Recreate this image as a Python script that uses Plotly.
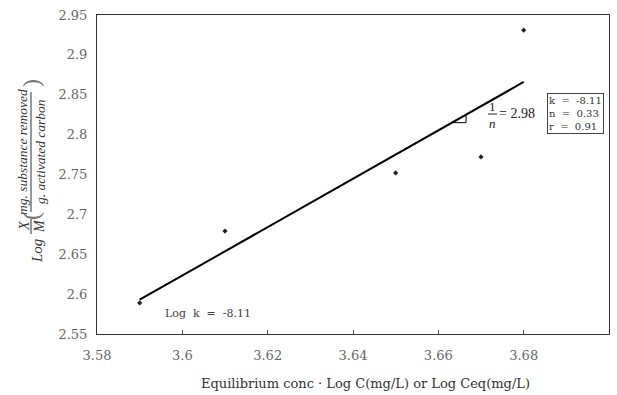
import plotly.graph_objects as go

# ---- data ----
log_c = [3.59, 3.61, 3.65, 3.67, 3.68]
log_xm = [2.589, 2.679, 2.752, 2.772, 2.931]
fit_x = [3.59, 3.68]
fit_y = [2.593, 2.866]
tri_x = [3.6632, 3.6665]
x_ticks = [3.58, 3.6, 3.62, 3.64, 3.66, 3.68, 3.7]
y_ticks = [2.55, 2.6, 2.65, 2.7, 2.75, 2.8, 2.85, 2.9, 2.95]
stats_text = "k  =  -8.11<br>n  =  0.33<br>r  =  0.91"
logk_text = "Log  k  =  -8.11"
slope_text = "= 2.98"
x_title = "Equilibrium conc · Log C(mg/L) or Log Ceq(mg/L)"

W, H = 617, 395
L, R, T, B = 97, 609, 15, 334


def px(x):
    return (x - L) / (R - L)


def py(y):
    return (B - y) / (B - T)


def line_y(x):
    s = (fit_y[1] - fit_y[0]) / (fit_x[1] - fit_x[0])
    return fit_y[0] + s * (x - fit_x[0])


serif = "Liberation Serif"
dserif = "DejaVu Serif"
fig = go.Figure()

fig.add_trace(go.Scatter(x=fit_x, y=fit_y, mode="lines",
                         line=dict(color="black", width=2), showlegend=False))
# right-angle triangle on the fit line
ty0, ty1 = line_y(tri_x[0]), line_y(tri_x[1])
fig.add_trace(go.Scatter(x=[tri_x[0], tri_x[1], tri_x[1]], y=[ty0, ty0, ty1],
                         mode="lines", line=dict(color="black", width=1),
                         showlegend=False))
fig.add_trace(go.Scatter(x=log_c, y=log_xm, mode="markers",
                         marker=dict(symbol="diamond", size=4, color="#222"),
                         showlegend=False))

ann = []
# stats box
ann.append(dict(xref="paper", yref="paper", x=px(547), y=py(93), xanchor="left",
                yanchor="top", text=stats_text, showarrow=False, align="left",
                font=dict(family=dserif, size=10, color="#333"),
                bordercolor="#444", borderwidth=1, borderpad=1, bgcolor="white"))
# Log k
ann.append(dict(xref="paper", yref="paper", x=px(163), y=py(313), xanchor="left",
                yanchor="middle", text=logk_text, showarrow=False,
                font=dict(family=dserif, size=11, color="#444")))
# 1/n = 2.98
ann.append(dict(xref="paper", yref="paper", x=px(492), y=py(106), xanchor="center",
                yanchor="middle", text="1", showarrow=False,
                font=dict(family=serif, size=13, color="#222")))
ann.append(dict(xref="paper", yref="paper", x=px(492), y=py(123), xanchor="center",
                yanchor="middle", text="<i>n</i>", showarrow=False,
                font=dict(family=serif, size=13, color="#222")))
ann.append(dict(xref="paper", yref="paper", x=px(497), y=py(114), xanchor="left",
                yanchor="middle", text=slope_text, showarrow=False,
                font=dict(family=serif, size=14, color="#222")))
# x title
ann.append(dict(xref="paper", yref="paper", x=px(365), y=py(383), xanchor="center",
                yanchor="middle", text=x_title, showarrow=False,
                font=dict(family=dserif, size=13, color="#333")))
# y title pieces (rotated)
yl_font = dict(family=serif, size=14, color="#333")
ann.append(dict(xref="paper", yref="paper", x=px(37), y=py(251), textangle=-90,
                xanchor="center", yanchor="middle", text="<i>Log</i>",
                showarrow=False, font=dict(family=serif, size=15, color="#333")))
ann.append(dict(xref="paper", yref="paper", x=px(24), y=py(226), textangle=-90,
                xanchor="center", yanchor="middle", text="<i>X</i>",
                showarrow=False, font=yl_font))
ann.append(dict(xref="paper", yref="paper", x=px(39), y=py(226), textangle=-90,
                xanchor="center", yanchor="middle", text="<i>M</i>",
                showarrow=False, font=yl_font))
ann.append(dict(xref="paper", yref="paper", x=px(31), y=py(216), textangle=-90,
                xanchor="center", yanchor="middle", text="(",
                showarrow=False, font=dict(family=serif, size=24, color="#777")))
ann.append(dict(xref="paper", yref="paper", x=px(31), y=py(83), textangle=-90,
                xanchor="center", yanchor="middle", text=")",
                showarrow=False, font=dict(family=serif, size=24, color="#777")))
ann.append(dict(xref="paper", yref="paper", x=px(22), y=py(152), textangle=-90,
                xanchor="center", yanchor="middle", text="<i>mg. substance removed</i>",
                showarrow=False, font=dict(family=serif, size=13.5, color="#333")))
ann.append(dict(xref="paper", yref="paper", x=px(40), y=py(152), textangle=-90,
                xanchor="center", yanchor="middle", text="<i>g. activated carbon</i>",
                showarrow=False, font=dict(family=serif, size=13.5, color="#333")))

shapes = [
    dict(type="line", xref="paper", yref="paper", x0=px(488), x1=px(497),
         y0=py(114), y1=py(114), line=dict(color="#222", width=1)),
    dict(type="line", xref="paper", yref="paper", x0=px(31), x1=px(31),
         y0=py(92), y1=py(212), line=dict(color="#333", width=1)),
    dict(type="line", xref="paper", yref="paper", x0=px(31), x1=px(31),
         y0=py(219), y1=py(234), line=dict(color="#333", width=1)),
]

fig.update_layout(
    width=W, height=H, margin=dict(l=L, r=W - R, t=T, b=H - B),
    paper_bgcolor="white", plot_bgcolor="white", showlegend=False,
    annotations=ann, shapes=shapes,
    xaxis=dict(range=[3.58, 3.7], tickvals=x_ticks,
               ticktext=[f"{v:g}" for v in x_ticks],
               ticks="inside", ticklen=4, tickcolor="#555",
               showgrid=False, zeroline=False, showline=True, linecolor="#333",
               linewidth=1, mirror=True, ticklabelstandoff=9,
               tickfont=dict(family=dserif, size=13, color="#666")),
    yaxis=dict(range=[2.55, 2.95], tickvals=y_ticks,
               ticktext=[f"{v:g}" for v in y_ticks],
               ticks="", showgrid=False, zeroline=False, showline=True,
               linecolor="#333", linewidth=1, mirror=True, ticklabelstandoff=6,
               tickfont=dict(family=dserif, size=13, color="#666")),
)

fig.write_html("out.html")
